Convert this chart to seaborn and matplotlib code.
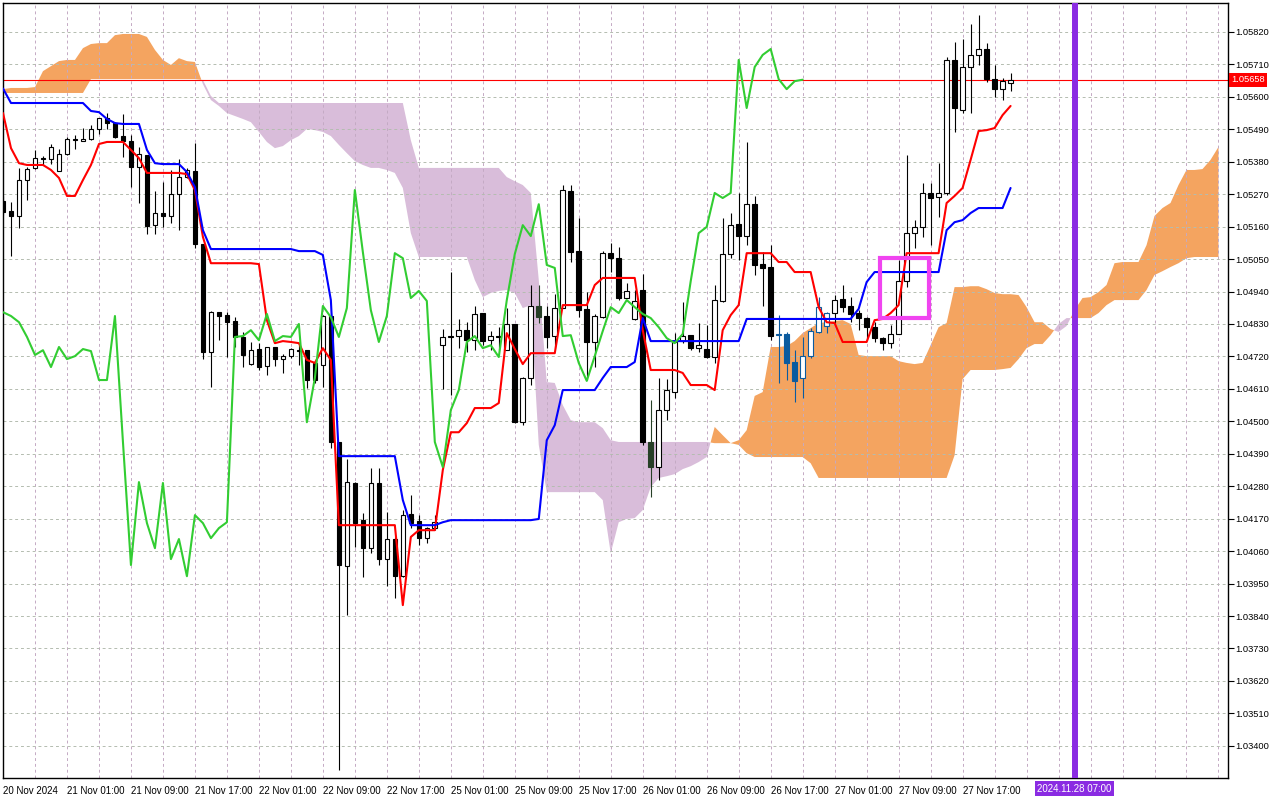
import numpy as np
import matplotlib
matplotlib.use("Agg")
import matplotlib.pyplot as plt
import matplotlib.transforms as mtransforms
from matplotlib.patches import Rectangle
from matplotlib.ticker import FormatStrFormatter, MultipleLocator
import seaborn as sns

# ========================
# DATA (EURUSD H1)
# ========================
open_ = [1.05247, 1.05213, 1.05196, 1.05318, 1.05359, 1.05392, 1.05389, 1.05348, 1.05406, 1.05457,
         1.05450, 1.05457, 1.05491, 1.05528, 1.05511, 1.05467, 1.05450, 1.05362, 1.05403, 1.05165,
         1.05206, 1.05196, 1.05270, 1.05328, 1.05348, 1.05101, 1.04735, 1.04870, 1.04860, 1.04840,
         1.04786, 1.04694, 1.04745, 1.04687, 1.04752, 1.04711, 1.04721, 1.04741, 1.04741, 1.04698,
         1.04691, 1.04857, 1.04430, 1.04009, 1.04291, 1.04165, 1.04070, 1.04291, 1.04033, 1.04101,
         1.03975, 1.04186, 1.04162, 1.04104, 1.04138, 1.04758, 1.04786, 1.04789, 1.04809, 1.04775,
         1.04867, 1.04775, 1.04789, 1.04741, 1.04830, 1.04497, 1.04647, 1.04891, 1.04857, 1.04789,
         1.04884, 1.05281, 1.05077, 1.04881, 1.04769, 1.04853, 1.05070, 1.05053, 1.04918, 1.04847,
         1.04945, 1.04430, 1.04345, 1.04538, 1.04599, 1.04772, 1.04792, 1.04748, 1.04745, 1.04718,
         1.04908, 1.05067, 1.05169, 1.05128, 1.05236, 1.05033, 1.05023, 1.04796, 1.04796, 1.04701,
         1.04647, 1.04721, 1.04803, 1.04823, 1.04867, 1.04914, 1.04891, 1.04867, 1.04850, 1.04819,
         1.04782, 1.04765, 1.04796, 1.04975, 1.05138, 1.05159, 1.05274, 1.05260, 1.05274, 1.05725,
         1.05555, 1.05701, 1.05742, 1.05762, 1.05660, 1.05626, 1.05647]
high_ = [1.05264, 1.05243, 1.05359, 1.05362, 1.05420, 1.05399, 1.05440, 1.05423, 1.05464, 1.05470,
         1.05494, 1.05504, 1.05528, 1.05545, 1.05514, 1.05542, 1.05470, 1.05430, 1.05403, 1.05281,
         1.05311, 1.05352, 1.05389, 1.05359, 1.05443, 1.05101, 1.04874, 1.04870, 1.04870, 1.04853,
         1.04803, 1.04769, 1.04765, 1.04752, 1.04752, 1.04728, 1.04748, 1.04758, 1.04741, 1.04701,
         1.04860, 1.04867, 1.04430, 1.04372, 1.04294, 1.04189, 1.04342, 1.04342, 1.04192, 1.04108,
         1.04199, 1.04250, 1.04182, 1.04141, 1.04182, 1.04813, 1.05006, 1.04847, 1.04836, 1.04891,
         1.04867, 1.04806, 1.04819, 1.04884, 1.04830, 1.04650, 1.04962, 1.04962, 1.04891, 1.04931,
         1.05301, 1.05301, 1.05189, 1.04938, 1.04864, 1.05077, 1.05104, 1.05091, 1.04969, 1.04945,
         1.04999, 1.04572, 1.04647, 1.04643, 1.04799, 1.04904, 1.04792, 1.04833, 1.04826, 1.04962,
         1.05189, 1.05206, 1.05274, 1.05447, 1.05264, 1.05074, 1.05097, 1.04860, 1.04803, 1.04741,
         1.04786, 1.04816, 1.04921, 1.04870, 1.04928, 1.04962, 1.04921, 1.04877, 1.04853, 1.04836,
         1.04786, 1.04826, 1.05047, 1.05403, 1.05182, 1.05308, 1.05308, 1.05375, 1.05735, 1.05786,
         1.05796, 1.05847, 1.05877, 1.05782, 1.05708, 1.05664, 1.05681]
low_ = [1.05199, 1.05060, 1.05155, 1.05250, 1.05355, 1.05369, 1.05372, 1.05348, 1.05403, 1.05423,
        1.05450, 1.05453, 1.05474, 1.05491, 1.05460, 1.05396, 1.05294, 1.05240, 1.05135, 1.05135,
        1.05159, 1.05172, 1.05148, 1.05325, 1.05087, 1.04711, 1.04616, 1.04775, 1.04718, 1.04752,
        1.04684, 1.04691, 1.04674, 1.04657, 1.04687, 1.04664, 1.04714, 1.04691, 1.04613, 1.04630,
        1.04616, 1.04409, 1.03318, 1.03843, 1.04073, 1.03972, 1.04053, 1.04013, 1.03941, 1.03901,
        1.03972, 1.04138, 1.04080, 1.04087, 1.04131, 1.04609, 1.04589, 1.04748, 1.04735, 1.04741,
        1.04758, 1.04741, 1.04741, 1.04741, 1.04494, 1.04487, 1.04623, 1.04833, 1.04748, 1.04748,
        1.04884, 1.05040, 1.04853, 1.04640, 1.04684, 1.04850, 1.05006, 1.04911, 1.04918, 1.04843,
        1.04420, 1.04243, 1.04301, 1.04504, 1.04579, 1.04765, 1.04741, 1.04735, 1.04714, 1.04698,
        1.04904, 1.05053, 1.05047, 1.05097, 1.04996, 1.04891, 1.04775, 1.04630, 1.04640, 1.04565,
        1.04579, 1.04714, 1.04799, 1.04799, 1.04833, 1.04870, 1.04836, 1.04809, 1.04775, 1.04769,
        1.04741, 1.04748, 1.04796, 1.04955, 1.05087, 1.05125, 1.05097, 1.05192, 1.05267, 1.05481,
        1.05545, 1.05545, 1.05708, 1.05650, 1.05599, 1.05589, 1.05620]
close_ = [1.05209, 1.05196, 1.05318, 1.05355, 1.05392, 1.05389, 1.05430, 1.05406, 1.05457, 1.05453,
          1.05457, 1.05491, 1.05528, 1.05511, 1.05464, 1.05450, 1.05362, 1.05406, 1.05162, 1.05206,
          1.05196, 1.05270, 1.05328, 1.05352, 1.05101, 1.04735, 1.04870, 1.04857, 1.04836, 1.04786,
          1.04725, 1.04741, 1.04684, 1.04752, 1.04711, 1.04721, 1.04745, 1.04738, 1.04640, 1.04640,
          1.04857, 1.04430, 1.04013, 1.04294, 1.04155, 1.04070, 1.04291, 1.04033, 1.04101, 1.03975,
          1.04182, 1.04155, 1.04104, 1.04138, 1.04158, 1.04786, 1.04789, 1.04809, 1.04775, 1.04864,
          1.04772, 1.04789, 1.04786, 1.04830, 1.04497, 1.04647, 1.04891, 1.04853, 1.04786, 1.04884,
          1.05284, 1.05074, 1.04877, 1.04769, 1.04857, 1.05070, 1.05053, 1.04918, 1.04942, 1.04908,
          1.04430, 1.04345, 1.04538, 1.04606, 1.04769, 1.04789, 1.04748, 1.04758, 1.04718, 1.04911,
          1.05067, 1.05165, 1.05128, 1.05236, 1.05030, 1.05020, 1.04789, 1.04792, 1.04698, 1.04637,
          1.04721, 1.04806, 1.04887, 1.04867, 1.04911, 1.04887, 1.04864, 1.04850, 1.04819, 1.04782,
          1.04765, 1.04796, 1.04975, 1.05138, 1.05159, 1.05274, 1.05257, 1.05274, 1.05725, 1.05562,
          1.05701, 1.05742, 1.05762, 1.05660, 1.05626, 1.05653, 1.05658]

# Tenkan-sen (red) and Kijun-sen (blue)
tenkan = ([1.05545, 1.05426, 1.05375, 1.05369, 1.05369, 1.05369, 1.05352, 1.05325, 1.05264, 1.05264,
           1.05318, 1.05369, 1.05440, 1.05447, 1.05447, 1.05447, 1.05420, 1.05392]
          + [1.05342] * 5 + [1.05338, 1.05284, 1.05125] + [1.05036] * 6
          + [1.05033, 1.04843, 1.04765, 1.04772, 1.04769, 1.04765, 1.04708, 1.04698, 1.04748, 1.04708]
          + [1.04148] * 8 + [1.03877, 1.04108, 1.04131, 1.04131, 1.04131, 1.04335, 1.04463, 1.04463,
                             1.04494, 1.04545, 1.04545, 1.04545, 1.04562, 1.04799, 1.04745, 1.04694]
          + [1.04731] * 4 + [1.04894] * 4 + [1.04962] + [1.04986] * 5 + [1.04809]
          + [1.04674] * 4 + [1.04664, 1.04623, 1.04623, 1.04623, 1.04606, 1.04809, 1.04860, 1.04894]
          + [1.05070] * 4 + [1.05040, 1.05040, 1.05006, 1.05006, 1.05006, 1.04887, 1.04836, 1.04833]
          + [1.04769] * 4 + [1.04843, 1.04847, 1.04867, 1.04894] + [1.05070] * 5
          + [1.05240, 1.05264, 1.05291, 1.05386, 1.05484, 1.05487, 1.05494, 1.05538, 1.05569])
kijun = ([1.05628] + [1.05579] * 10 + [1.05552, 1.05548, 1.05525, 1.05511, 1.05508, 1.05508, 1.05508,
                                       1.05420, 1.05375, 1.05372, 1.05372, 1.05372, 1.05345, 1.05294,
                                       1.05148]
         + [1.05084] * 11 + [1.05077] * 3 + [1.05064, 1.04911] + [1.04382] * 8
         + [1.04233] + [1.04148] * 4 + [1.04158] + [1.04165] * 11 + [1.04169, 1.04436, 1.04487]
         + [1.04606] * 5 + [1.04647, 1.04684, 1.04684, 1.04684, 1.04701, 1.04850]
         + [1.04772] * 12 + [1.04847] * 14 + [1.04881, 1.04972] + [1.05006] * 9
         + [1.05148, 1.05175, 1.05182, 1.05206, 1.05223, 1.05223, 1.05223, 1.05223, 1.05291])

# Senkou span A / B (already shifted 26 bars ahead)
span_a = [1.05626, 1.05630, 1.05630, 1.05630, 1.05633, 1.05687, 1.05704, 1.05721, 1.05725, 1.05725,
          1.05765, 1.05779, 1.05782, 1.05782, 1.05809, 1.05813, 1.05813, 1.05813, 1.05803, 1.05759,
          1.05725, 1.05708, 1.05731, 1.05721, 1.05718, 1.05643, 1.05589, 1.05569, 1.05545, 1.05535,
          1.05525, 1.05514, 1.05481, 1.05447, 1.05426, 1.05433, 1.05453, 1.05467, 1.05491, 1.05487,
          1.05481, 1.05467, 1.05437, 1.05409, 1.05382, 1.05369, 1.05359, 1.05359, 1.05352, 1.05342,
          1.05291, 1.05138, 1.05057, 1.05057, 1.05057, 1.05057, 1.05057, 1.05057, 1.05057, 1.04979,
          1.04921, 1.04935, 1.04942, 1.04945, 1.04935, 1.04884, 1.04894, 1.04420, 1.04260, 1.04260,
          1.04260, 1.04260, 1.04260, 1.04260, 1.04260, 1.04233, 1.04053, 1.04158, 1.04169, 1.04172,
          1.04199, 1.04277, 1.04308, 1.04314, 1.04321, 1.04338, 1.04348, 1.04362, 1.04379, 1.04481,
          1.04453, 1.04426, 1.04436, 1.04470, 1.04586, 1.04599, 1.04752, 1.04752, 1.04755, 1.04772,
          1.04799, 1.04816, 1.04833, 1.04836, 1.04840, 1.04843, 1.04830, 1.04725, 1.04721, 1.04721,
          1.04721, 1.04721, 1.04704, 1.04698, 1.04694, 1.04698, 1.04758, 1.04819, 1.04833, 1.04955,
          1.04955, 1.04958, 1.04958, 1.04948, 1.04935, 1.04931, 1.04931, 1.04928, 1.04887, 1.04836,
          1.04836, 1.04813, 1.04803, 1.04823, 1.04877, 1.04918, 1.04921, 1.04938, 1.04962, 1.05036,
          1.05040, 1.05040, 1.05040, 1.05097, 1.05196, 1.05223, 1.05240, 1.05301, 1.05352, 1.05352,
          1.05355, 1.05386, 1.05430]
span_b = ([1.05613] * 11 + [1.05660] * 14 + [1.05657, 1.05603] + [1.05579] * 24 + [1.05453]
          + [1.05359] * 11 + [1.05328, 1.05314, 1.05301, 1.05274, 1.04979, 1.04633, 1.04630, 1.04555,
                              1.04504, 1.04497, 1.04497, 1.04497, 1.04477, 1.04436]
          + [1.04430] * 12 + [1.04426, 1.04426, 1.04426, 1.04420, 1.04392] + [1.04379] * 7
          + [1.04358] + [1.04308] * 17 + [1.04385, 1.04643, 1.04674, 1.04674, 1.04674, 1.04674,
                                          1.04677, 1.04681, 1.04711, 1.04748, 1.04762, 1.04762,
                                          1.04792, 1.04830, 1.04850, 1.04850, 1.04850, 1.04850,
                                          1.04867, 1.04894, 1.04911, 1.04911, 1.04911, 1.04911,
                                          1.04945, 1.04996, 1.05009, 1.05023, 1.05036, 1.05053,
                                          1.05057, 1.05057, 1.05057, 1.05057])

# candles drawn over the cloud come out in inverted colours
cloud_blue_bars = [97, 98, 99, 100, 101, 102, 103]
cloud_green_bars = [67, 81]

time_labels = ["20 Nov 2024", "21 Nov 01:00", "21 Nov 09:00", "21 Nov 17:00", "22 Nov 01:00",
               "22 Nov 09:00", "22 Nov 17:00", "25 Nov 01:00", "25 Nov 09:00", "25 Nov 17:00",
               "26 Nov 01:00", "26 Nov 09:00", "26 Nov 17:00", "27 Nov 01:00", "27 Nov 09:00",
               "27 Nov 17:00"]
label_every = 8
marker_bar = 134
marker_label = "2024.11.28 07:00"
box_bars = [109.7, 115.8]
box_prices = [1.04850, 1.05053]
price_ticks = [1.03400, 1.03510, 1.03620, 1.03730, 1.03840, 1.03950, 1.04060, 1.04170, 1.04280,
               1.04390, 1.04500, 1.04610, 1.04720, 1.04830, 1.04940, 1.05050, 1.05160, 1.05270,
               1.05380, 1.05490, 1.05600, 1.05710, 1.05820]

# ========================
# STYLE
# ========================
sns.set_style("white")
plt.rcParams['font.family'] = ['Liberation Sans', 'DejaVu Sans']
FS_X = 7.0
FS_Y = 6.7

open_ = np.array(open_)
high_ = np.array(high_)
low_ = np.array(low_)
close_ = np.array(close_)
n = len(close_)
idx = np.arange(n)

fig = plt.figure(figsize=(12.8, 8), dpi=100)
ax = fig.add_axes([3 / 1280, 22 / 800, 1225 / 1280, 775 / 800])

# ========================
# CLOUD
# ========================
a = np.array(span_a)
b = np.array(span_b)
cx = np.arange(len(a))
ax.fill_between(cx, a, b, where=a >= b, interpolate=True, color='#F4A460', lw=0, zorder=1)
ax.fill_between(cx, a, b, where=a < b, interpolate=True, color='#D9BDDA', lw=0, zorder=1)

# ========================
# CANDLES
# ========================
edge = []
for i in idx:
    if i in cloud_blue_bars:
        edge.append('#0b5b9f')
    elif i in cloud_green_bars:
        edge.append('#274027')
    else:
        edge.append('black')
face = [('white' if close_[i] >= open_[i] else edge[i]) for i in idx]

ax.vlines(idx, low_, high_, colors=edge, lw=0.8, zorder=3)
body_low = np.minimum(open_, close_)
body_h = np.maximum(np.abs(close_ - open_), 0.000015)
ax.bar(idx, body_h, bottom=body_low, width=0.58, color=face, edgecolor=edge,
       linewidth=0.8, zorder=4)

# ========================
# ICHIMOKU LINES
# ========================
sns.lineplot(x=idx, y=tenkan, color='#ff0000', linewidth=1.5, ax=ax, zorder=5)
sns.lineplot(x=idx, y=kijun, color='#0000ff', linewidth=1.5, ax=ax, zorder=5)
sns.lineplot(x=idx[:n - 26], y=close_[26:], color='#32cd32', linewidth=1.5, ax=ax, zorder=5)

# price line + marker
ax.axhline(close_[-1], color='#ff0000', lw=0.8, zorder=2)
ax.axvline(marker_bar, color='#8a2be2', lw=4.3, zorder=6)
ax.add_patch(Rectangle((box_bars[0], box_prices[0]), box_bars[1] - box_bars[0],
                       box_prices[1] - box_prices[0], fill=False, ec='#f044f0', lw=3, zorder=7))

# ========================
# AXES
# ========================
ax.set_xlim(0.06, 153.19)
ax.set_ylim(1.03291, 1.05918)

ax.set_yticks(price_ticks)
ax.yaxis.set_major_formatter(FormatStrFormatter('%.5f'))
ax.yaxis.tick_right()
ax.tick_params(axis='y', direction='out', length=4, width=0.8, pad=1.5, labelsize=FS_Y,
               colors='black', right=True, left=False)

ax.set_xticks(idx[::label_every][:len(time_labels)])
ax.set_xticklabels(time_labels, ha='left')
ax.xaxis.set_minor_locator(MultipleLocator(4))
ax.tick_params(axis='x', which='major', direction='out', length=4, width=0.8, pad=2,
               labelsize=FS_X, colors='black')
ax.tick_params(axis='x', which='minor', length=0)

ax.set_axisbelow('line')
ax.grid(True, axis='x', which='both', color='#c4aac4', lw=0.7, ls=(0, (3, 3)))
ax.grid(True, axis='y', which='major', color='#b4bcb0', lw=0.7, ls=(0, (3, 3)))

for s in ax.spines.values():
    s.set_color('black')
    s.set_linewidth(1)

ax.set_xlabel('')
ax.set_ylabel('')
if ax.get_legend() is not None:
    ax.get_legend().remove()

# last price tag on the right scale
trans = mtransforms.blended_transform_factory(ax.transAxes, ax.transData)
ax.text(1.0025, close_[-1], f"{close_[-1]:.5f}", transform=trans, ha='left', va='center',
        fontsize=FS_Y, color='white', zorder=10, clip_on=False,
        bbox=dict(boxstyle='square,pad=0.25', fc='#ff0000', ec='none'))

# time tag of the vertical marker
tx = mtransforms.blended_transform_factory(ax.transData, fig.transFigure)
ax.text(marker_bar, 11.5 / 800, marker_label, transform=tx, ha='center', va='center',
        fontsize=FS_X, color='white', zorder=10, clip_on=False,
        bbox=dict(boxstyle='square,pad=0.25', fc='#8a2be2', ec='none'))

fig.savefig("out.png", dpi=100)
